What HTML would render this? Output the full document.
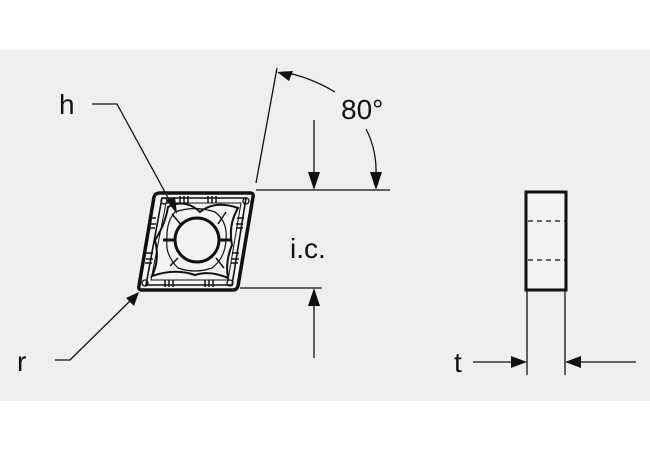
<!DOCTYPE html>
<html><head><style>
html,body{margin:0;padding:0;background:#fff;width:650px;height:452px;overflow:hidden}
</style></head><body>
<svg width="650" height="452" viewBox="0 0 650 452" xmlns="http://www.w3.org/2000/svg" font-family="Liberation Sans, sans-serif">
<rect x="0" y="50" width="650" height="351" fill="#efefef"/>
<g stroke="#111" fill="none" stroke-width="1.3">
<!-- insert -->
<path d="M160 193 L250 193 Q254 193 253 197 L238 286 Q237 290 233 290 L142 290 Q138 290 139 286 L154 197 Q155 193 160 193 Z" stroke-width="3.5" fill="#f4f4f4"/>
<path d="M162 198 L246 198 L232 285 L146 285 Z" stroke-width="1.6"/>
<path d="M166 203 L241 203 L228 280 L151 280 Z" stroke-width="1"/>
<path d="M168 207 Q185 198 200 212 Q215 200 238 208 Q228 225 232 245 Q225 262 228 278 Q210 270 195 275 Q175 268 152 276 Q160 260 155 240 Q165 225 168 207 Z" stroke-width="2"/>
<path d="M175 212 Q195 205 215 212 Q228 222 226 240 Q225 258 212 268 Q195 274 178 268 Q165 255 167 240 Q166 222 175 212 Z" stroke-width="1.2"/>
<path d="M172 214 L182 226 M226 212 L218 224 M170 266 L178 258 M224 268 L216 258" stroke-width="1.5"/>
<circle cx="197" cy="240" r="22" stroke-width="3" fill="#f4f4f4"/>
<path d="M163 240 L175 240 M219 240 L232 240" stroke-width="3"/>
<circle cx="164" cy="201" r="3"/><circle cx="246" cy="201" r="3"/><circle cx="145" cy="283" r="3"/><circle cx="230" cy="283" r="3"/>
<path d="M180 196 v7 M184 196 v7 M188 196 v7 M208 196 v7 M212 196 v7 M216 196 v7 M165 287 v-7 M169 287 v-7 M173 287 v-7 M205 287 v-7 M209 287 v-7 M213 287 v-7" stroke-width="1.5"/>
<path d="M149 218 h7 M149 224 h7 M148 228 h7 M146 253 h7 M146 259 h7 M145 263 h7 M237 218 h7 M236 224 h7 M236 228 h7 M232 253 h7 M232 259 h7 M231 263 h7" stroke-width="1.5"/>
<!-- 80 deg -->
<line x1="256" y1="183" x2="277" y2="68"/>
<line x1="256" y1="190" x2="390" y2="190"/>
<path d="M335 92 Q310 77 283 72"/>
<path d="M366 129 Q377 150 376 176"/>
<line x1="314" y1="120" x2="314" y2="178"/>
<!-- ic bottom -->
<line x1="240" y1="288" x2="322" y2="288"/>
<line x1="314" y1="358" x2="314" y2="300"/>
<!-- h -->
<path d="M92 104 L117 104 L172 205"/>
<!-- r -->
<path d="M55 360 L70 360 L131 300"/>
<!-- side view -->
<rect x="526" y="192" width="40" height="98" stroke-width="3" fill="#f4f4f4"/>
<path d="M528 221 h37 M528 260 h37" stroke-dasharray="5 4"/>
<line x1="527" y1="290" x2="527" y2="375"/>
<line x1="565" y1="290" x2="565" y2="375"/>
<line x1="473" y1="362" x2="515" y2="362"/>
<line x1="636" y1="362" x2="578" y2="362"/>
</g>
<g fill="#111">
<polygon points="277,72 293,71 289,81"/>
<polygon points="376,190 370,172 382,172"/>
<polygon points="314,190 308,172 320,172"/>
<polygon points="314,288 308,306 320,306"/>
<polygon points="177,214 166,200 175,197"/>
<polygon points="139,292 126,298 134,306"/>
<polygon points="527,362 511,356 511,368"/>
<polygon points="565,362 581,356 581,368"/>
</g>
<g fill="#111" font-size="28">
<text x="59" y="114">h</text>
<text x="17" y="371">r</text>
<text x="290" y="258">i.c.</text>
<text x="341" y="119">80°</text>
<text x="454" y="372">t</text>
</g>
</svg>
</body></html>
